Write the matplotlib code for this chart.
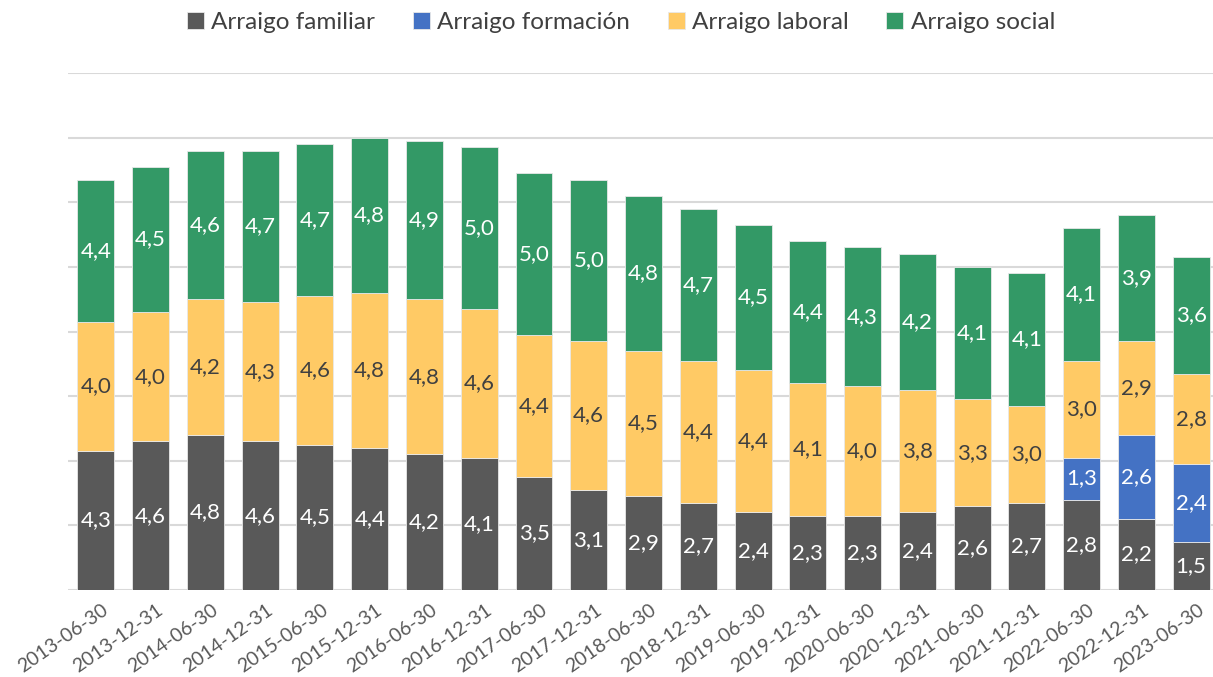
import numpy as np
import matplotlib.pyplot as plt
import matplotlib.transforms as mtrans

plt.rcParams['font.family'] = ['Lato', 'DejaVu Sans']

fechas = ["2013-06-30", "2013-12-31", "2014-06-30", "2014-12-31", "2015-06-30",
          "2015-12-31", "2016-06-30", "2016-12-31", "2017-06-30", "2017-12-31",
          "2018-06-30", "2018-12-31", "2019-06-30", "2019-12-31", "2020-06-30",
          "2020-12-31", "2021-06-30", "2021-12-31", "2022-06-30", "2022-12-31",
          "2023-06-30"]
familiar = [4.3, 4.6, 4.8, 4.6, 4.5, 4.4, 4.2, 4.1, 3.5, 3.1, 2.9, 2.7, 2.4, 2.3, 2.3,
            2.4, 2.6, 2.7, 2.8, 2.2, 1.5]
formacion = [0] * 18 + [1.3, 2.6, 2.4]
laboral = [4.0, 4.0, 4.2, 4.3, 4.6, 4.8, 4.8, 4.6, 4.4, 4.6, 4.5, 4.4, 4.4, 4.1, 4.0,
           3.8, 3.3, 3.0, 3.0, 2.9, 2.8]
social = [4.4, 4.5, 4.6, 4.7, 4.7, 4.8, 4.9, 5.0, 5.0, 5.0, 4.8, 4.7, 4.5, 4.4, 4.3,
          4.2, 4.1, 4.1, 4.1, 3.9, 3.6]

series = [
    ("Arraigo familiar", familiar, "#595959", "white"),
    ("Arraigo formación", formacion, "#4472C4", "white"),
    ("Arraigo laboral", laboral, "#FFCA65", "#404040"),
    ("Arraigo social", social, "#339966", "white"),
]

fig = plt.figure(figsize=(12.13, 6.77), dpi=100)
ax = fig.add_axes([68 / 1213, 1 - 590 / 677, 1 - 68 / 1213, (590 - 73) / 677])

x = np.arange(len(fechas))
bottom = np.zeros(len(fechas))
for name, vals, color, tcolor in series:
    vals = np.array(vals, dtype=float)
    ax.bar(x, vals, 0.675, bottom=bottom, color=color, edgecolor="#E8E8E8",
           linewidth=0.6, label=name, zorder=3)
    for xi, b, v in zip(x, bottom, vals):
        if v > 0:
            ax.text(xi, b + v / 2, f"{v:.1f}".replace(".", ","), ha="center",
                    va="center", color=tcolor, fontsize=16, zorder=4)
    bottom += vals

ax.set_ylim(0, 16)
ax.set_xlim(-0.51, 20.4)
ax.set_yticks(np.arange(0, 17, 2))
ax.yaxis.grid(True, color="#D9D9D9", linewidth=1.5, zorder=0)
ax.tick_params(axis="y", left=False, labelleft=False)
ax.tick_params(axis="x", length=0, pad=8)
ax.set_xticks(x)
ax.set_xticklabels(fechas, rotation=35, ha="right", rotation_mode="anchor",
                   fontsize=14, color="#595959")
# nudge tick labels a bit to the right, like the original
shift = mtrans.ScaledTranslation(6 / 100, 0, fig.dpi_scale_trans)
for lbl in ax.get_xticklabels():
    lbl.set_transform(lbl.get_transform() + shift)
for s in ax.spines.values():
    s.set_visible(False)

fig.legend(loc="upper center", bbox_to_anchor=(0.512, 1.015), ncol=4, frameon=False,
           fontsize=17.5, handlelength=0.7, handleheight=0.7, handletextpad=0.3,
           columnspacing=1.55, labelcolor="#404040")

fig.savefig("out.png", dpi=100)
